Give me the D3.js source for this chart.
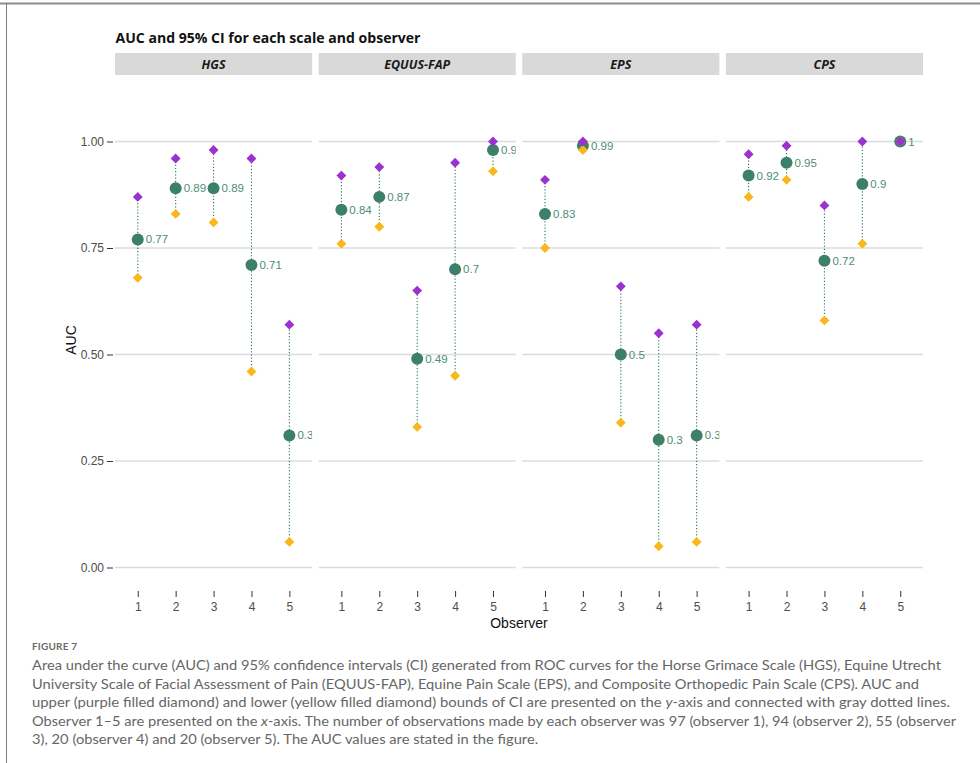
<!DOCTYPE html>
<html><head><meta charset="utf-8">
<script src="https://cdn.jsdelivr.net/npm/d3@7"></script>
<style>body{margin:0;background:#fff}svg{display:block}</style>
</head><body><svg id="c" width="980" height="763"></svg>
<script>
// ---- data ----
const scales = ["HGS", "EQUUS-FAP", "EPS", "CPS"];
const observers = [1, 2, 3, 4, 5];
const aucHGS = [0.77, 0.89, 0.89, 0.71, 0.31];
const upperHGS = [0.87, 0.96, 0.98, 0.96, 0.57];
const lowerHGS = [0.68, 0.83, 0.81, 0.46, 0.06];
const labelHGS = ["0.77", "0.89", "0.89", "0.71", "0.3"];
const aucEQUUS = [0.84, 0.87, 0.49, 0.70, 0.98];
const upperEQUUS = [0.92, 0.94, 0.65, 0.95, 1.00];
const lowerEQUUS = [0.76, 0.80, 0.33, 0.45, 0.93];
const labelEQUUS = ["0.84", "0.87", "0.49", "0.7", "0.98"];
const aucEPS = [0.83, 0.99, 0.50, 0.30, 0.31];
const upperEPS = [0.91, 1.00, 0.66, 0.55, 0.57];
const lowerEPS = [0.75, 0.98, 0.34, 0.05, 0.06];
const labelEPS = ["0.83", "0.99", "0.5", "0.3", "0.3"];
const aucCPS = [0.92, 0.95, 0.72, 0.90, 1.00];
const upperCPS = [0.97, 0.99, 0.85, 1.00, 1.00];
const lowerCPS = [0.87, 0.91, 0.58, 0.76, 1.00];
const labelCPS = ["0.92", "0.95", "0.72", "0.9", "1"];
const yTicks = [0, 0.25, 0.5, 0.75, 1.0];
const yTickLabels = ["0.00", "0.25", "0.50", "0.75", "1.00"];
const title = "AUC and 95% CI for each scale and observer";
const captionHead = "FIGURE 7";
const captionLines = [
  [["Area under the curve (AUC) and 95% confidence intervals (CI) generated from ROC curves for the Horse Grimace Scale (HGS), Equine Utrecht", false]],
  [["University Scale of Facial Assessment of Pain (EQUUS-FAP), Equine Pain Scale (EPS), and Composite Orthopedic Pain Scale (CPS). AUC and", false]],
  [["upper (purple filled diamond) and lower (yellow filled diamond) bounds of CI are presented on the ", false], ["y", true], ["-axis and connected with gray dotted lines.", false]],
  [["Observer 1\u20135 are presented on the ", false], ["x", true], ["-axis. The number of observations made by each observer was 97 (observer 1), 94 (observer 2), 55 (observer", false]],
  [["3), 20 (observer 4) and 20 (observer 5). The AUC values are stated in the figure.", false]]
];

const panelData = [
  {auc: aucHGS, upper: upperHGS, lower: lowerHGS, label: labelHGS},
  {auc: aucEQUUS, upper: upperEQUUS, lower: lowerEQUUS, label: labelEQUUS},
  {auc: aucEPS, upper: upperEPS, lower: lowerEPS, label: labelEPS},
  {auc: aucCPS, upper: upperCPS, lower: lowerCPS, label: labelCPS}
];

// ---- layout ----
const svg = d3.select("#c");
const axisFont = "'Liberation Sans', Arial, sans-serif";
const left = 115, right = 923, gap = 6.5;
const panelW = (right - left - 3 * gap) / 4;
const y = d3.scaleLinear().domain([0, 1]).range([567.5, 141.5]);
const x = d3.scaleLinear().domain([0.4, 5.6]).range([0, panelW]);

// frame
svg.append("line").attr("x1", 0).attr("x2", 980).attr("y1", 3.5).attr("y2", 3.5).attr("stroke", "#8c8c8c").attr("stroke-width", 2);
svg.append("line").attr("x1", 6.5).attr("x2", 6.5).attr("y1", 3).attr("y2", 763).attr("stroke", "#808080").attr("stroke-width", 1);

// title
svg.append("text").attr("x", 115.5).attr("y", 43).text(title)
  .attr("font-family", "'Open Sans', sans-serif").attr("font-weight", 700).attr("font-size", 14.5)
  .attr("textLength", 305).attr("lengthAdjust", "spacingAndGlyphs").attr("fill", "#111");

const green = "#3c8069", labelGreen = "#4d8d74", purple = "#9b32cf", yellow = "#f8b81a", lineCol = "#2f7360";
const diamond = d3.symbol().type(d3.symbolDiamond2).size(62);

scales.forEach((s, i) => {
  const px = left + i * (panelW + gap);
  const g = svg.append("g").attr("transform", `translate(${px},0)`);
  // strip
  g.append("rect").attr("x", 0).attr("y", 53).attr("width", panelW).attr("height", 22).attr("fill", "#d9d9d9");
  g.append("text").attr("x", panelW / 2).attr("y", 69).attr("text-anchor", "middle").text(s)
    .attr("font-family", "'Open Sans', sans-serif").attr("font-style", "italic").attr("font-weight", 700)
    .attr("font-size", 12.5).attr("fill", "#1a1a1a");
  // grid
  g.selectAll(".grid").data(yTicks).join("line").attr("class", "grid")
    .attr("x1", 0).attr("x2", panelW).attr("y1", d => y(d)).attr("y2", d => y(d))
    .attr("stroke", "#dcdcdc").attr("stroke-width", 1.3);
  // x axis
  const xa = g.append("g").attr("transform", "translate(0,588)")
    .call(d3.axisBottom(x).tickValues(observers).tickFormat(d3.format("d")).tickSize(0).tickPadding(0));
  xa.select(".domain").remove();
  xa.selectAll(".tick text").remove();
  xa.selectAll(".tick").append("line").attr("y1", 3).attr("y2", 9).attr("stroke", "#333").attr("stroke-width", 1);
  xa.selectAll(".tick").append("text").attr("y", 23).attr("text-anchor", "middle").text(d => d)
    .attr("font-family", axisFont).attr("font-size", 12).attr("fill", "#4d4d4d");

  const clipId = "clip" + i;
  g.append("clipPath").attr("id", clipId).append("rect").attr("x", 0).attr("y", 80).attr("width", panelW).attr("height", 500);
  const pg = g.append("g").attr("clip-path", `url(#${clipId})`);
  const d = panelData[i];
  const rows = observers.map((o, k) => ({o, auc: d.auc[k], up: d.upper[k], lo: d.lower[k], lab: d.label[k]}));
  pg.selectAll(".ci").data(rows).join("line").attr("class", "ci")
    .attr("x1", r => x(r.o)).attr("x2", r => x(r.o)).attr("y1", r => y(r.lo)).attr("y2", r => y(r.up))
    .attr("stroke", lineCol).attr("stroke-width", 1.1).attr("stroke-dasharray", "1.2,2");
  pg.selectAll(".auc").data(rows).join("circle").attr("class", "auc")
    .attr("cx", r => x(r.o)).attr("cy", r => y(r.auc)).attr("r", 6).attr("fill", green);
  pg.selectAll(".lo").data(rows).join("path").attr("class", "lo")
    .attr("d", diamond).attr("transform", r => `translate(${x(r.o)},${y(r.lo)})`).attr("fill", yellow);
  pg.selectAll(".up").data(rows).join("path").attr("class", "up")
    .attr("d", diamond).attr("transform", r => `translate(${x(r.o)},${y(r.up)})`).attr("fill", purple);
  pg.selectAll(".lab").data(rows).join("text").attr("class", "lab")
    .attr("x", r => x(r.o) + 8).attr("y", r => y(r.auc) + 4).text(r => r.lab)
    .attr("font-family", axisFont).attr("font-size", 11.5).attr("fill", labelGreen);
});

// y axis
const ya = svg.append("g").attr("transform", "translate(113,0)")
  .call(d3.axisLeft(y).tickValues(yTicks).tickFormat((d, k) => yTickLabels[k]).tickSize(6).tickPadding(3));
ya.select(".domain").remove();
ya.selectAll(".tick line").attr("stroke", "#333");
ya.selectAll(".tick text").attr("font-family", axisFont).attr("font-size", 12).attr("fill", "#4d4d4d");

// axis titles
svg.append("text").attr("x", 519).attr("y", 628).attr("text-anchor", "middle").text("Observer")
  .attr("font-family", axisFont).attr("font-size", 14).attr("fill", "#111");
svg.append("text").attr("transform", "translate(76,340) rotate(-90)").attr("text-anchor", "middle").text("AUC")
  .attr("font-family", axisFont).attr("font-size", 14).attr("fill", "#111");

// caption
const capFont = "Lato, 'Open Sans', sans-serif";
svg.append("text").attr("x", 32).attr("y", 650).text(captionHead)
  .attr("font-family", capFont).attr("font-size", 10).attr("font-weight", 700).attr("fill", "#6b6b6b").attr("letter-spacing", 0.2);
const lineEnds = [941, 919, 950, 956, null];
const baselines = [670, 688.5, 707, 725.5, 744];
const ratios = [];
const capNodes = captionLines.map((parts, k) => {
  const t = svg.append("text").attr("x", 32).attr("y", baselines[k])
    .attr("font-family", capFont).attr("font-size", 13.5).attr("fill", "#666");
  parts.forEach(([str, it]) => t.append("tspan").text(str).attr("font-style", it ? "italic" : "normal"));
  return t;
});
capNodes.forEach((t, k) => {
  const nat = t.node().getComputedTextLength();
  if (lineEnds[k] !== null) {
    const target = lineEnds[k] - 32;
    ratios.push(target / nat);
    t.attr("textLength", target).attr("lengthAdjust", "spacingAndGlyphs");
  } else {
    const r = d3.mean(ratios);
    t.attr("textLength", nat * r).attr("lengthAdjust", "spacingAndGlyphs");
  }
});
</script></body></html>
